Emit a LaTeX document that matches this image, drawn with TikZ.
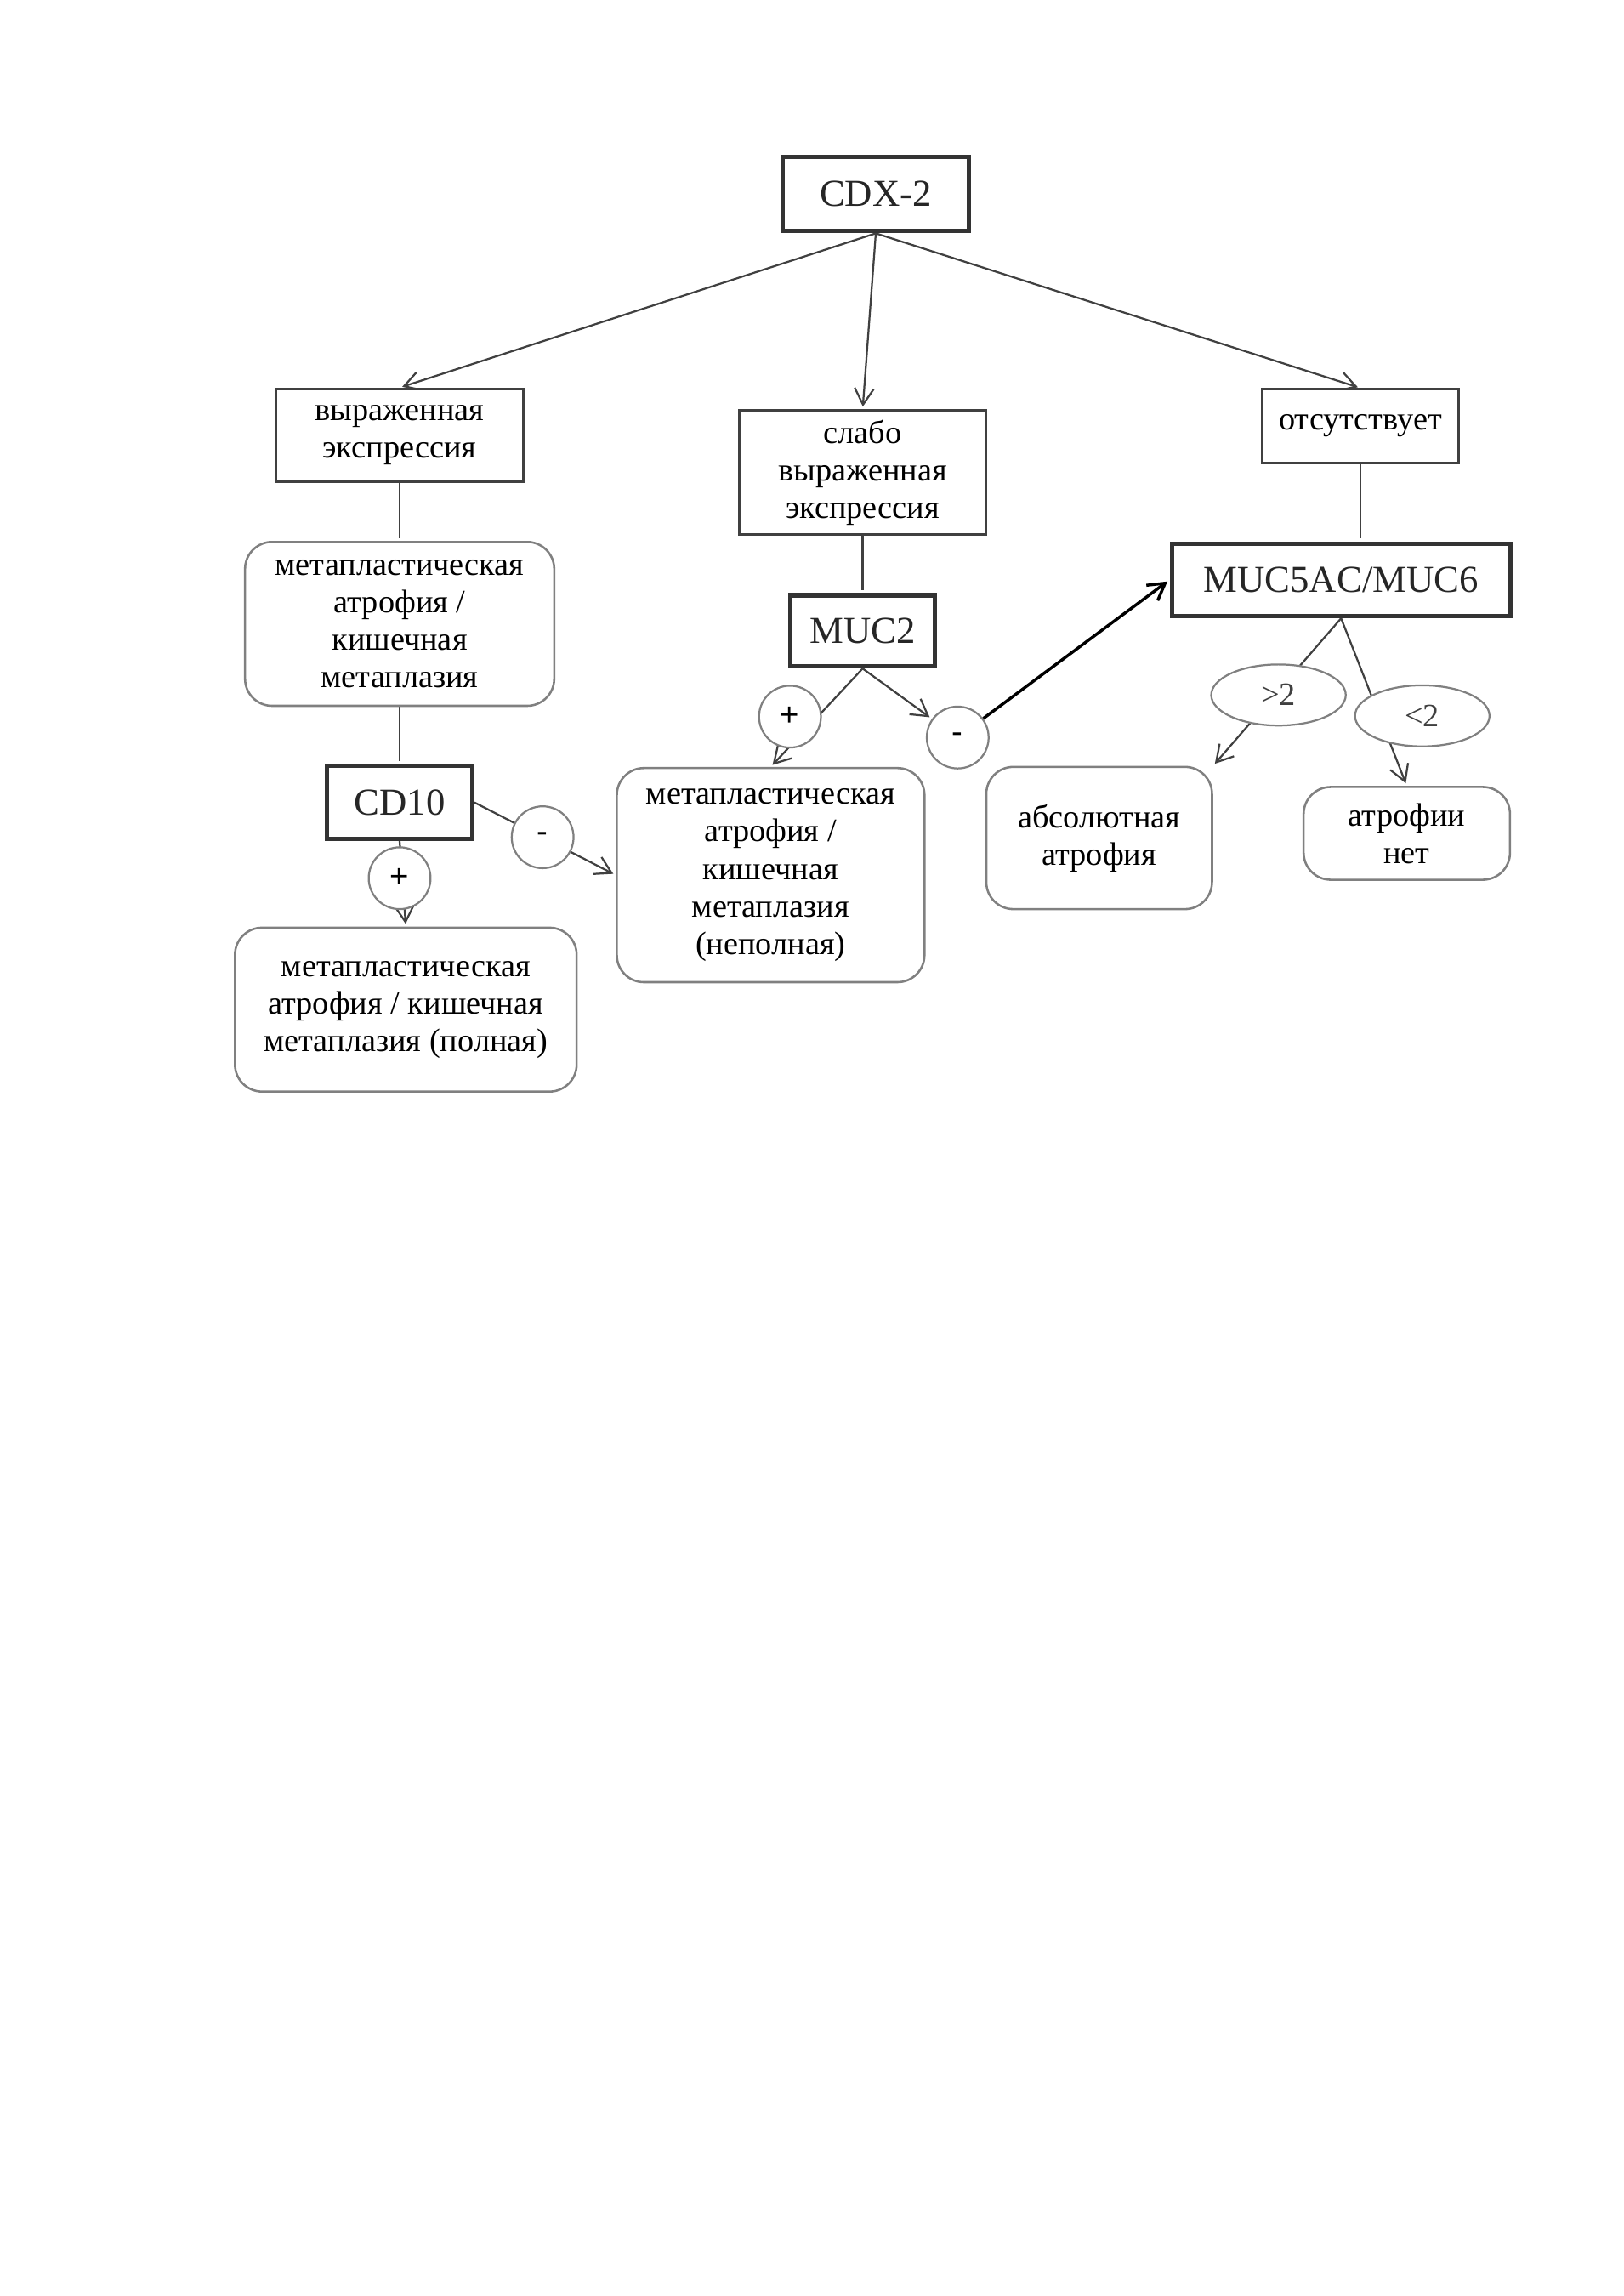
\documentclass[tikz,border=0pt]{standalone}
\usepackage{fontspec}
\setmainfont{Liberation Serif}
\newfontfamily\signfont{Liberation Sans}
\usetikzlibrary{positioning,arrows.meta,shapes.geometric,backgrounds}

\begin{document}
\begin{tikzpicture}[shorten >=1pt,on grid,
   >={Straight Barb[length=6pt,width=7pt]},
   every edge/.style={draw=black!75,line width=0.7pt},
   keybox/.style={draw=black!80,fill=white,line width=1.6pt,inner sep=0pt,font=\fontsize{14}{16}\selectfont,text=black!85},
   txtbox/.style={draw=black!75,fill=white,line width=0.9pt,inner sep=0pt,align=center,font=\fontsize{12}{13.8}\selectfont},
   rbox/.style={draw=black!50,fill=white,line width=0.8pt,rounded corners=0.35cm,inner sep=0pt,align=center,font=\fontsize{12}{13.8}\selectfont},
   signnode/.style={circle,draw=black!50,fill=white,line width=0.7pt,minimum size=0.8cm,inner sep=0pt,font=\signfont\fontsize{12}{14}\selectfont},
   ovalnode/.style={ellipse,draw=black!50,fill=white,line width=0.7pt,minimum width=1.74cm,minimum height=0.79cm,inner sep=0pt,font=\fontsize{12}{14}\selectfont,text=black!75}] 

   \useasboundingbox (0,0) rectangle (21,-29.7);

   \node[keybox,minimum width=2.41cm,minimum height=0.96cm] (cdx) at (11.33,-2.51) {CDX-2};

   \node[txtbox,minimum width=3.2cm,minimum height=1.2cm] (vyr) [below left=3.12cm and 6.16cm of cdx] {выраженная\\экспрессия};
   \node[txtbox,minimum width=3.19cm,minimum height=1.6cm] (slb) [below left=3.6cm and 0.17cm of cdx] {слабо\\выраженная\\экспрессия};
   \node[txtbox,minimum width=2.55cm,minimum height=0.95cm] (ots) [below right=3.0cm and 6.27cm of cdx] {отсутствует};

   % левая ветвь
   \node[rbox,minimum width=4cm,minimum height=2.12cm] (met) [below=2.44cm of vyr] {метапластическая\\атрофия /\\кишечная\\метаплазия};
   \node[keybox,minimum width=1.88cm,minimum height=0.94cm] (cd10) [below=2.31cm of met] {CD10};
   \node[signnode] (p1) [below=0.98cm of cd10] {+};
   \node[signnode] (m1) [below right=0.45cm and 1.85cm of cd10] {-};
   \node[rbox,minimum width=4.42cm,minimum height=2.12cm] (full) [below right=1.7cm and 0.08cm of p1] {метапластическая\\атрофия / кишечная\\метаплазия (полная)};

   % средняя ветвь
   \node[keybox,minimum width=1.87cm,minimum height=0.92cm] (muc2) [below=2.05cm of slb] {MUC2};
   \node[signnode] (p2) [below left=1.11cm and 0.94cm of muc2] {+};
   \node[signnode] (m2) [below right=1.38cm and 1.23cm of muc2] {-};
   \node[rbox,minimum width=3.98cm,minimum height=2.77cm] (inc) [below left=3.16cm and 1.19cm of muc2] {метапластическая\\атрофия /\\кишечная\\метаплазия\\(неполная)};

   % правая ветвь
   \node[keybox,minimum width=4.38cm,minimum height=0.94cm] (muc5) [below left=1.99cm and 0.25cm of ots] {MUC5AC/MUC6};
   \node[ovalnode] (gt) [below left=1.49cm and 0.81cm of muc5] {>2};
   \node[ovalnode] (lt) [below right=1.76cm and 1.05cm of muc5] {<2};
   \node[rbox,minimum width=2.92cm,minimum height=1.84cm] (abs) [below left=1.85cm and 2.32cm of gt] {абсолютная\\атрофия};
   \node[rbox,minimum width=2.67cm,minimum height=1.2cm] (net) [below left=1.52cm and 0.2cm of lt] {атрофии\\нет};

   \begin{scope}[on background layer]
   \fill[white] (0,0) rectangle (21,-29.7);

   % Связи от CDX-2
   \path[->] (cdx.south) edge (vyr.north);
   \path[->] (cdx.south) edge (slb.north);
   \path[->] (cdx.south) edge (ots.north);

   % Связи для CD10
   \path[-] (vyr) edge (met);
   \path[-] (met) edge (cd10);
   \path[->] (cd10.south) edge (full.north);
   \path[->] (cd10.east) edge (inc.west);

   % Связи для MUC2
   \path[-] (slb) edge (muc2);
   \path[->] (muc2.south) edge (inc.north);
   \path[->] (muc2.south) edge (m2);
   \path[->] (m2) edge[draw=black,line width=1.1pt] (muc5.west);

   % Связи для MUC5AC/MUC6
   \path[-] (ots.south) edge (ots.south |- muc5.north);
   \path[->] (muc5.south) edge (abs.north east);
   \path[->] (muc5.south) edge (net.north);
   \end{scope}

\end{tikzpicture}
\end{document}
